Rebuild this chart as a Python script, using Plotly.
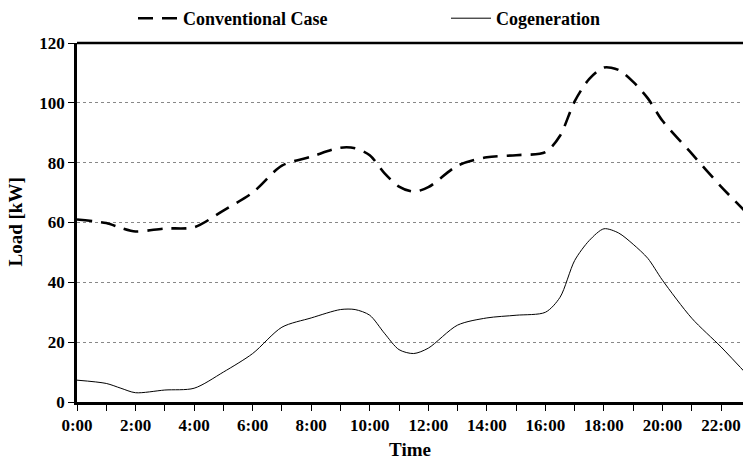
import plotly.graph_objects as go

hours = [0, 1, 1.5, 2, 3, 4, 5, 6, 7, 8, 9, 9.5, 10, 10.5, 11, 11.5, 12, 13, 14, 15, 16, 16.5, 17, 17.5, 18, 18.5, 19, 19.5, 20, 21, 22, 23]
conventional = [61, 59.8, 58.2, 57, 58, 58.4, 64, 70, 79, 82, 85, 84.8, 82.5, 76.5, 72, 70.3, 71.8, 79, 81.8, 82.5, 83.5, 89, 100.5, 108, 111.8, 111, 107, 101.5, 94, 83, 72, 62]
cogeneration = [7.3, 6.2, 4.6, 3.1, 4, 4.6, 10, 16.2, 25, 28.1, 30.9, 30.9, 29, 23, 17.5, 16.2, 18, 25.7, 28.1, 29, 30, 35, 47.3, 54, 57.9, 56.5, 52.7, 48, 40.7, 28, 18.4, 8]

tick_vals = [0, 2, 4, 6, 8, 10, 12, 14, 16, 18, 20, 22]
tick_text = ["0:00", "2:00", "4:00", "6:00", "8:00", "10:00", "12:00", "14:00", "16:00", "18:00", "20:00", "22:00"]
y_ticks = [0, 20, 40, 60, 80, 100, 120]

FONT = "Liberation Serif"
legend_font = dict(family=FONT, size=18, color="black", weight="bold")
title_font = dict(family=FONT, size=19, color="black", weight="bold")

fig = go.Figure()
fig.add_trace(go.Scatter(
    x=hours, y=conventional, name="Conventional Case", mode="lines", legend="legend",
    line=dict(color="black", width=2.6, dash="15px,9px", shape="spline", smoothing=0.8),
))
fig.add_trace(go.Scatter(
    x=hours, y=cogeneration, name="Cogeneration", mode="lines", legend="legend2",
    line=dict(color="black", width=1, shape="spline", smoothing=0.8),
))

fig.update_layout(
    width=743, height=460,
    margin=dict(l=77, r=0, t=43, b=58, autoexpand=False),
    paper_bgcolor="white", plot_bgcolor="white",
    font=dict(family=FONT, size=17, color="black"),
    showlegend=True,
    legend=dict(
        xref="container", yref="container", x=133 / 743, xanchor="left", y=1.006, yanchor="top",
        font=legend_font, itemwidth=40, bgcolor="rgba(0,0,0,0)",
    ),
    legend2=dict(
        xref="container", yref="container", x=446 / 743, xanchor="left", y=1.006, yanchor="top",
        font=legend_font, itemwidth=40, bgcolor="rgba(0,0,0,0)",
    ),
    xaxis=dict(
        range=[0, 22.75], tickvals=tick_vals, ticktext=tick_text,
        ticks="outside", ticklen=6, tickwidth=1, tickcolor="black",
        minor=dict(dtick=1, ticks="outside", ticklen=6, tickcolor="black", tickwidth=1, showgrid=False),
        showline=True, linecolor="black", linewidth=2.5, mirror=False,
        showgrid=False, zeroline=False,
        tickfont=dict(family=FONT, size=17, weight="bold"),
        title=dict(text="Time", font=title_font),
    ),
    yaxis=dict(
        range=[0, 120], tickvals=y_ticks,
        ticks="outside", ticklen=6, tickwidth=1, tickcolor="black",
        showline=True, linecolor="black", linewidth=2.5,
        showgrid=True, gridcolor="#888888", gridwidth=1, griddash="dot",
        zeroline=False,
        tickfont=dict(family=FONT, size=17, weight="bold"),
    ),
    annotations=[dict(
        text="Load [kW]", textangle=-90, xref="paper", yref="paper",
        x=-62 / 666, y=0.5, xanchor="center", yanchor="middle", showarrow=False,
        font=title_font,
    )],
    shapes=[dict(type="line", xref="paper", yref="paper", x0=0, x1=1, y0=1, y1=1,
                 line=dict(color="black", width=2.5))],
)

fig.write_html("out.html", config={"displayModeBar": False},
               post_script="document.body.style.margin='0';document.body.style.overflow='hidden';")
